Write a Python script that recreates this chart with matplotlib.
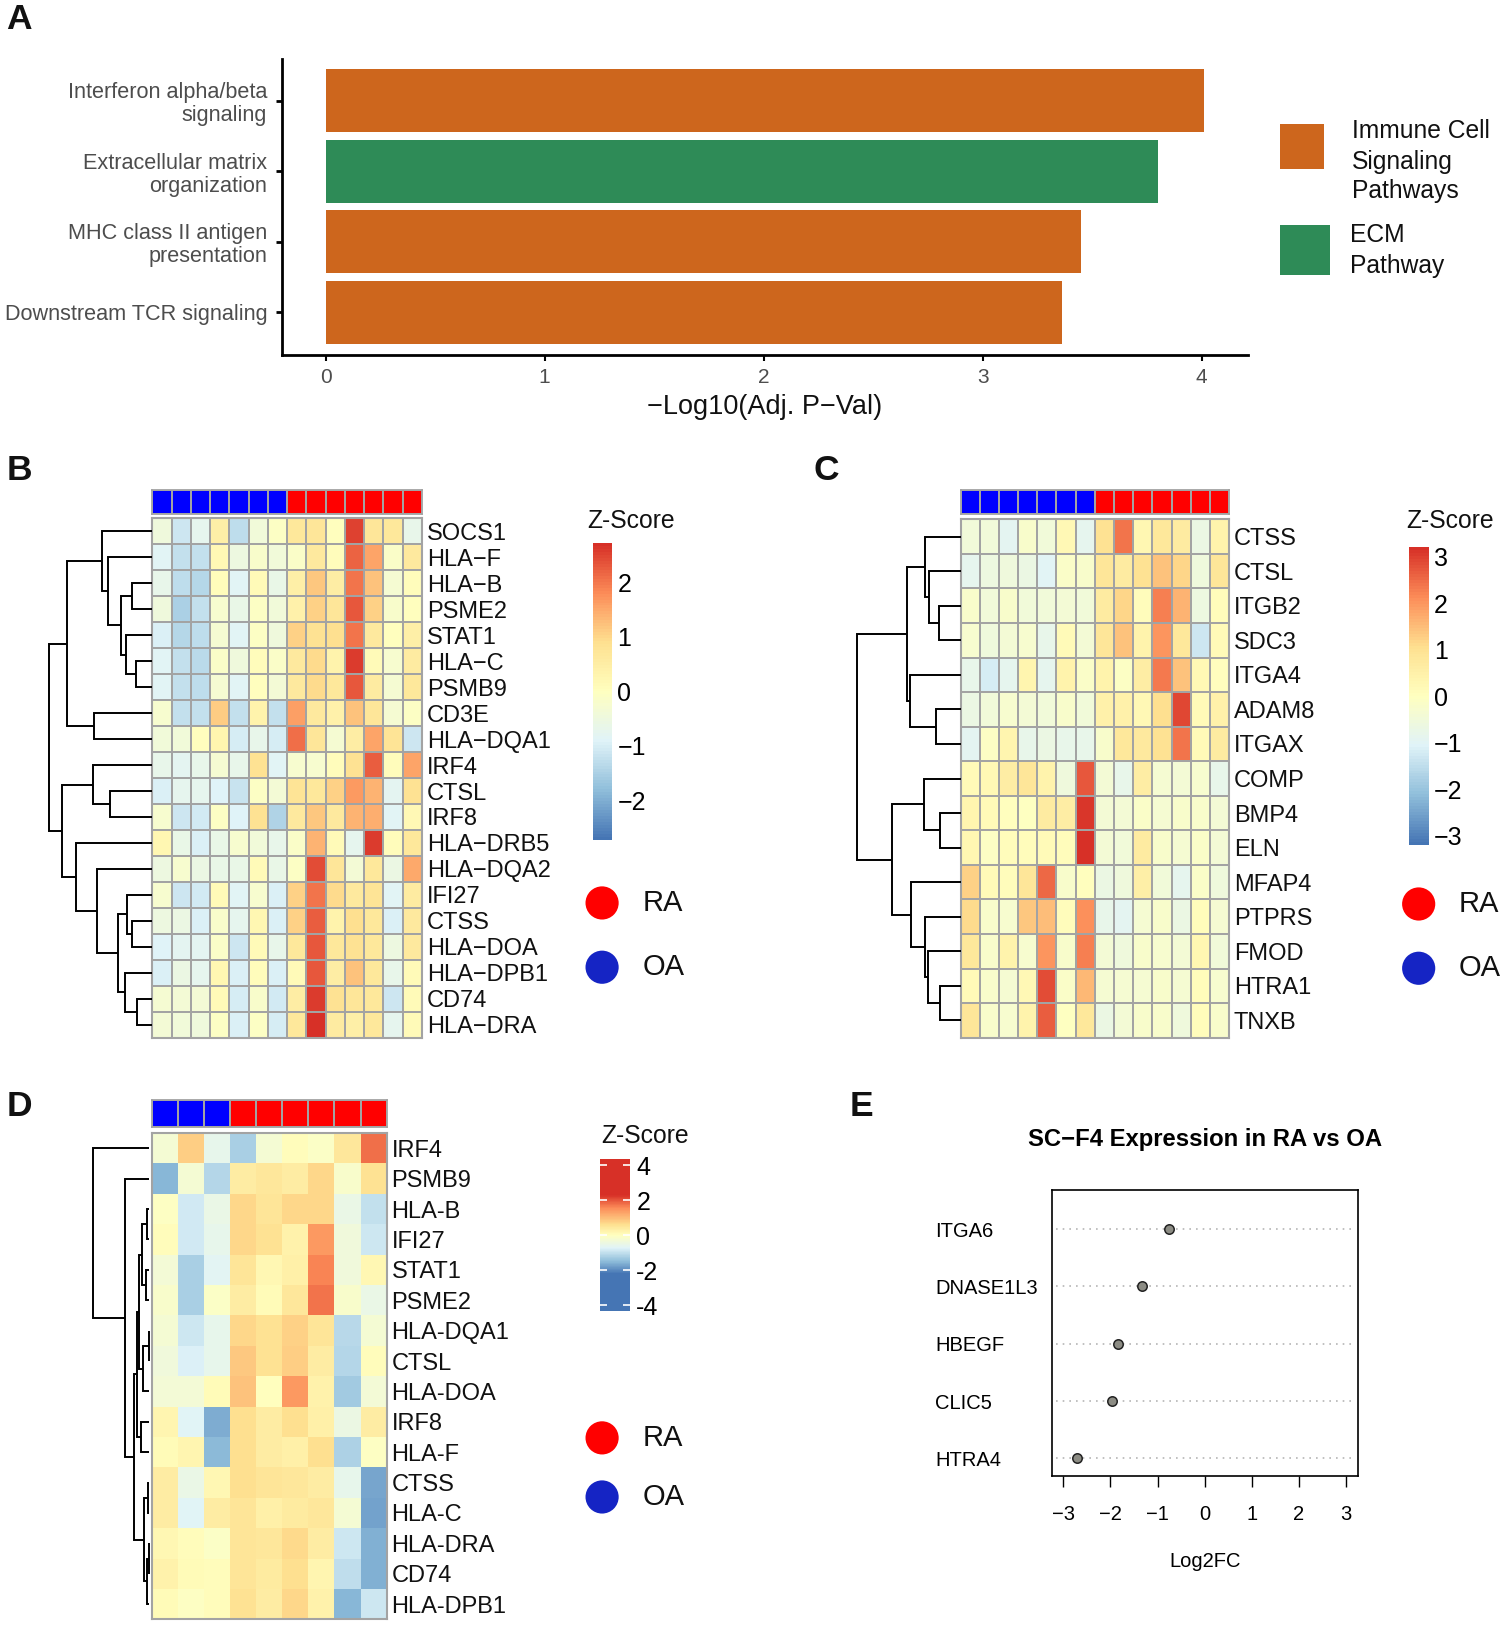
import numpy as np
import pandas as pd
import matplotlib
matplotlib.use('Agg')
from matplotlib import pyplot as plt
from matplotlib.colors import LinearSegmentedColormap, ListedColormap, Normalize
from matplotlib.cm import ScalarMappable
from matplotlib.patches import Rectangle, Circle

plt.rcParams['font.family'] = ['Liberation Sans', 'DejaVu Sans']

# Panel A
pathways = ['Downstream TCR signaling', 'MHC class II antigen\npresentation',
            'Extracellular matrix\norganization', 'Interferon alpha/beta\nsignaling']
pvals = [3.36, 3.45, 3.80, 4.01]
path_groups = ['immune', 'immune', 'ecm', 'immune']

# Panel B
genes_b = ['SOCS1', 'HLA−F', 'HLA−B', 'PSME2', 'STAT1', 'HLA−C', 'PSMB9', 'CD3E', 'HLA−DQA1', 'IRF4',
           'CTSL', 'IRF8', 'HLA−DRB5', 'HLA−DQA2', 'IFI27', 'CTSS', 'HLA−DOA', 'HLA−DPB1', 'CD74', 'HLA−DRA']
groups_b = ['OA'] * 7 + ['RA'] * 7
z_b = [
    [-.45, -1.1, -.75, .45, -1.3, -.4, -.1, .7, .75, .05, 2.55, .75, .7, -.7],
    [-.85, -1.2, -1.25, .2, -.5, -.2, -.4, -.15, .65, .1, 2.2, 1.55, -.15, .65],
    [-.7, -1.3, -1.4, .1, -.85, .15, -.65, .45, 1.15, .5, 2.05, 1.25, -.3, .1],
    [-.45, -1.5, -1.25, -.25, -.6, -.1, -.4, .4, 1.05, .75, 2.3, 1.05, -.2, .05],
    [-.95, -1.4, -1.3, -.3, -.85, -.1, -.45, 1.05, .85, .9, 2.05, .65, .05, .45],
    [-.85, -1.25, -1.35, -.15, -.45, .1, -.15, .6, .95, .35, 2.6, .15, -.25, .55],
    [-.85, -1.2, -1.3, -.3, -.85, .05, -.35, .6, .95, .7, 2.3, .55, -.3, .7],
    [-.25, -1.25, -1.25, 1.1, -1.25, .35, -1.2, 1.6, .6, .4, 1.25, .75, -.3, -.1],
    [-.4, -.4, .05, .3, -1.0, -.7, -1.0, 2.1, .75, -.3, .5, 1.55, .8, -1.1],
    [-.7, -.8, -.7, -.3, -.7, .85, -.85, -.25, -.25, .1, .85, 2.25, .1, 1.55],
    [-.95, -.75, -.75, -.9, -1.15, -.1, -.35, .8, .7, 1.05, 1.65, 1.4, -.8, .85],
    [-.25, -1.1, -1.05, -.1, -.9, .85, -1.45, .6, 1.15, .6, 1.4, 1.45, -.85, .2],
    [.25, -.65, -.95, -.65, -.25, -.4, -.7, -.15, 1.4, .15, -.75, 2.6, .1, .7],
    [-.5, -.25, -.55, -.6, -.65, .15, -.65, -.1, 2.4, .75, -.35, .7, -.55, 1.5],
    [-.25, -1.1, -1.05, .15, -.85, -.25, -.95, 1.05, 2.05, .95, .6, .8, -.85, .55],
    [-.5, -.55, -.95, -.2, -.75, .25, -.95, 1.05, 2.25, .35, .9, .7, -.95, .6],
    [-.9, -.8, -.8, -.15, -1.1, .15, -.7, .7, 2.3, .7, .85, .7, -.5, .65],
    [-.95, -.55, -.75, .25, -.95, .1, -.95, .15, 2.3, .5, 1.2, .7, -.7, .15],
    [-.3, -.35, -.35, .15, -1.0, -.2, -1.05, .5, 2.6, .85, .75, .7, -1.1, .15],
    [-.35, -.4, -.45, -.1, -.95, -.1, -1.0, .7, 2.7, .55, .45, .7, -.75, .15],
]
tree_b = (306,
          (252,
           (149, 0, (131, 1, (94, (59, 2, 3), (77, 4, (49, 5, 6))))),
           (172, 7, 8)),
          (268,
           (176, 9, (124, 10, 11)),
           (225, 12, (162, 13, (100, (74, 14, (59, 15, 16)), (81, 17, (45, 18, 19)))))))

# Panel C
genes_c = ['CTSS', 'CTSL', 'ITGB2', 'SDC3', 'ITGA4', 'ADAM8', 'ITGAX', 'COMP', 'BMP4', 'ELN',
           'MFAP4', 'PTPRS', 'FMOD', 'HTRA1', 'TNXB']
groups_c = ['OA'] * 7 + ['RA'] * 7
z_c = [
    [-.5, -.45, -.95, -.25, -.45, .2, -.85, 1.0, 2.4, .3, .8, .65, -.65, .4],
    [-.85, -.6, -.55, -.7, -1.0, -.15, -.2, .85, .65, 1.0, 1.45, 1.2, -.55, .85],
    [-.2, -.45, -.25, -.45, -.5, -.4, -.45, .7, 1.2, .1, 2.3, 1.6, -.6, .1],
    [-.3, -.55, -.4, -.3, -.8, .15, -.4, .85, 1.45, .4, 2.0, .8, -1.3, .15],
    [-.8, -1.2, -.85, .35, -.85, .4, -.15, .4, -.1, .6, 2.35, 1.45, .2, .05],
    [-.65, -.45, -.3, -.4, -.5, -.2, -.45, .5, .45, .2, 1.05, 2.9, .15, .45],
    [-.95, -.1, .35, -.8, -.7, -.8, -.8, -.2, .8, .75, 1.0, 2.4, .15, .7],
    [.15, .2, .6, .85, .4, -.55, 2.7, -.4, -.8, .6, -.35, -.4, -.3, -.8],
    [.35, .15, .05, -.05, .7, .6, 3.1, -.4, -.4, -.15, -.35, -.25, -.25, -.4],
    [.3, -.1, .1, .1, .15, .1, 3.15, -.4, -.45, .7, -.2, -.35, -.15, -.4],
    [1.25, .15, .1, .85, 2.5, -.2, .05, -.7, -.55, .55, -.5, -.85, -.15, -.55],
    [1.15, -.2, -.3, 1.35, 1.5, .1, 2.1, -.8, -.9, -.35, -.2, -.65, .1, -.35],
    [.8, -.25, .4, -.3, 2.0, -.25, 2.25, -.4, -.55, -.25, -.3, -.4, .3, -.5],
    [.15, -.2, -.35, .25, 2.85, -.15, 1.55, -.35, -.35, -.35, -.25, -.35, .1, -.3],
    [.85, -.25, -.3, .4, 2.65, -.05, .8, -.7, -.4, -.2, -.2, -.55, .1, -.25],
]
tree_c = (307,
          (158,
           (105, 0, (95, 1, (63, 2, 3))),
           (149, 4, (72, 5, 6))),
          (203,
           (108, 7, (62, 8, 9)),
           (146, 10, (105, 11, (96, 12, (62, 13, 14))))))

# Panel D
genes_d = ['IRF4', 'PSMB9', 'HLA-B', 'IFI27', 'STAT1', 'PSME2', 'HLA-DQA1', 'CTSL', 'HLA-DOA', 'IRF8',
           'HLA-F', 'CTSS', 'HLA-C', 'HLA-DRA', 'CD74', 'HLA-DPB1']
groups_d = ['OA'] * 3 + ['RA'] * 6
z_d = [
    [-.25, .8, -.55, -1.25, -.25, .05, -.1, .45, 1.8],
    [-1.55, -.25, -1.15, .35, .45, .35, .7, -.15, .55],
    [-.05, -.85, -.5, .7, .5, .7, .7, -.5, -1.0],
    [.05, -.85, -.55, .7, .55, .25, 1.4, -.35, -.9],
    [-.3, -1.25, -.65, .5, .15, .3, 1.6, -.35, .15],
    [-.15, -1.25, -.1, .35, .1, .45, 1.75, -.15, -.5],
    [-.25, -.9, -.55, .7, .55, .75, .5, -1.1, -.25],
    [-.35, -.75, -.55, .85, .55, .8, .35, -1.15, .05],
    [-.3, -.3, .1, .95, .03, 1.4, .25, -1.3, -.3],
    [.2, -.7, -1.65, .6, .35, .6, .3, -.45, .35],
    [.1, .2, -1.5, .6, .35, .3, .6, -1.2, -.05],
    [.35, -.5, .15, .6, .5, .45, .35, -.55, -1.7],
    [.35, -.7, .35, .5, .3, .4, .45, -.25, -1.75],
    [.15, .05, -.1, .5, .45, .65, .35, -.9, -1.6],
    [.25, .1, .05, .5, .4, .6, .2, -1.05, -1.6],
    [.1, -.05, .05, .55, .35, .7, .25, -1.55, -.9],
]
tree_d = (170, 0,
          (73, 1,
           (46,
            (38,
             (30, (21, (6, 2, 3), (10, 4, 5)), (20, 8, (2, 6, 7))),
             (24, 9, 10)),
            (16, (5, 11, 12), (7, (2, 13, 14), 15)))))

# Panel E
genes_e = ['HTRA4', 'CLIC5', 'HBEGF', 'DNASE1L3', 'ITGA6']
log2fc = [-2.7, -1.96, -1.83, -1.32, -0.75]

rd_yl_bu = ['#4575B4', '#91BFDB', '#E0F3F8', '#FFFFBF', '#FEE090', '#FC8D59', '#D73027']
cmap = LinearSegmentedColormap.from_list('heat', rd_yl_bu, N=100)

# all positions below are in px of a scaled copy of the figure
W, H = 1452.3, 1567.5
fig = plt.figure(figsize=(15.05, 16.25), dpi=100)


def axes_px(x0, y0, x1, y1):
    return fig.add_axes([x0 / W, 1 - y1 / H, (x1 - x0) / W, (y1 - y0) / H])


def draw_tree(ax, node):
    if not isinstance(node, tuple):
        return node + 0.5, 0
    h, left, right = node
    y1, h1 = draw_tree(ax, left)
    y2, h2 = draw_tree(ax, right)
    ax.plot([h1, h, h, h2], [y1, y1, y2, y2], color='black', lw=1.4,
            solid_joinstyle='miter', solid_capstyle='butt', clip_on=False)
    return (y1 + y2) / 2, h


def heat_panel(z, genes, groups, tree, box, annot, dendro, grid=True, cm=cmap, lim=2.72):
    z = pd.DataFrame(z, index=genes)
    grey = '#A3A3A3'
    ax = axes_px(*box)
    if grid:
        ax.pcolormesh(z.values, cmap=cm, vmin=-lim, vmax=lim, edgecolors=grey, linewidth=1.3)
    else:
        ax.pcolormesh(z.values, cmap=cm, vmin=-lim, vmax=lim)
    ax.set_ylim(len(genes), 0)
    ax.set_xticks([])
    ax.yaxis.tick_right()
    ax.set_yticks(np.arange(len(genes)) + 0.5)
    ax.set_yticklabels(genes, fontsize=17, color='#111111')
    ax.tick_params(axis='y', length=0, pad=3.5)
    for s in ax.spines.values():
        s.set_color(grey)
        s.set_linewidth(1.5)

    an = axes_px(*annot)
    codes = np.array([[0 if g == 'OA' else 1 for g in groups]])
    an.pcolormesh(codes, cmap=ListedColormap(['#0000FF', '#FF0000']), vmin=0, vmax=1,
                  edgecolors=grey, linewidth=1.1)
    an.set_xticks([])
    an.set_yticks([])
    for s in an.spines.values():
        s.set_color(grey)
        s.set_linewidth(1.3)

    de = axes_px(*dendro)
    draw_tree(de, tree)
    de.set_xlim(tree[0], 0)
    de.set_ylim(len(genes), 0)
    de.axis('off')


def colorbar(box, cm, lim, ticks, labels, white_ticks=False):
    cax = axes_px(*box)
    sm = ScalarMappable(norm=Normalize(-lim, lim), cmap=cm)
    cb = fig.colorbar(sm, cax=cax)
    cb.outline.set_visible(False)
    cb.set_ticks(ticks)
    cb.set_ticklabels(labels)
    cb.ax.minorticks_off()
    if white_ticks:
        cax.tick_params(axis='y', left=True, right=True, direction='in', color='white',
                        length=5, width=1.2, labelsize=18, pad=4.5)
    else:
        cax.tick_params(axis='y', length=0, labelsize=18, pad=3.5)


# A
ax_a = axes_px(272, 57, 1204, 342)
bar_cols = ['#CD661D' if g == 'immune' else '#2E8B57' for g in path_groups]
ax_a.barh(range(4), pvals, height=0.89, color=bar_cols)
ax_a.set_xlim(-0.2, 4.21)
ax_a.set_ylim(-0.6, 3.59)
ax_a.set_yticks(range(4))
ax_a.set_yticklabels(pathways, fontsize=15.6, color='#4D4D4D', linespacing=1.12)
ax_a.set_xticks(range(5))
ax_a.tick_params(axis='x', labelsize=15, labelcolor='#4D4D4D', length=4, width=1.5, pad=6)
ax_a.tick_params(axis='y', length=4.5, width=2, pad=6)
ax_a.set_xlabel('−Log10(Adj. P−Val)', fontsize=19.5, labelpad=5, color='#111111')
for s in ['top', 'right']:
    ax_a.spines[s].set_visible(False)
for s in ['left', 'bottom']:
    ax_a.spines[s].set_linewidth(2)

# B, C, D
heat_panel(z_b, genes_b, groups_b, tree_b, (147, 500, 407, 1001), (147, 473, 407, 496), (47, 500, 147, 1001))
heat_panel(z_c, genes_c, groups_c, tree_c, (927, 501, 1186, 1001), (927, 473, 1186, 496), (827, 501, 927, 1001),
           lim=3.2)
# D is saturated well before the end of its scale
stops = [-4.35, -2.2, -1.47, -.73, 0, .6, 1.55, 2.3, 4.35]
stop_cols = ['#4575B4'] + rd_yl_bu + ['#D73027']
cmap_d = LinearSegmentedColormap.from_list('heat_d', [((v + 4.35) / 8.7, c) for v, c in zip(stops, stop_cols)], N=256)
heat_panel(z_d, genes_d, groups_d, tree_d, (147, 1093, 373, 1562), (147, 1061, 373, 1087), (90, 1093, 144, 1562),
           grid=False, cm=cmap_d, lim=4.35)

colorbar((572, 524, 591, 810), cmap, 2.72, [-2, -1, 0, 1, 2], ['−2', '−1', '0', '1', '2'])
colorbar((1360, 528, 1379, 815), cmap, 3.2, [-3, -2, -1, 0, 1, 2, 3], ['−3', '−2', '−1', '0', '1', '2', '3'])
colorbar((579, 1118, 608, 1265), cmap_d, 4.35, [-4, -2, 0, 2, 4], ['-4', '-2', '0', '2', '4'], white_ticks=True)

# E
ax_e = axes_px(1015, 1148, 1310, 1424)
y_e = np.arange(1, 6)
ax_e.hlines(y_e, -3.16, 3.2, color='#B5B5B5', lw=1.2, linestyles=(0, (1, 3)))
ax_e.plot(log2fc, y_e, 'o', ms=6.8, mfc='#8C8C84', mec='#222222', mew=1.1)
ax_e.set_xlim(-3.24, 3.24)
ax_e.set_ylim(0.69, 5.68)
ax_e.set_xticks(range(-3, 4))
ax_e.set_xticklabels(['−3', '−2', '−1', '0', '1', '2', '3'])
ax_e.tick_params(axis='x', labelsize=14.5, length=8, width=1, pad=13)
ax_e.set_yticks(y_e)
ax_e.set_yticklabels(genes_e, ha='left', fontsize=14.5)
ax_e.tick_params(axis='y', length=0, pad=84)
ax_e.set_xlabel('Log2FC', fontsize=14.5, labelpad=20)
ax_e.set_title('SC−F4 Expression in RA vs OA', fontsize=17.2, fontweight='bold', pad=32)
for s in ax_e.spines.values():
    s.set_linewidth(1.2)

# everything that is not tied to an axis: letters, legends
over = fig.add_axes([0, 0, 1, 1], facecolor='none')
over.set_xlim(0, W)
over.set_ylim(H, 0)
over.axis('off')
for letter, x, y in [('A', 6, 19), ('B', 6, 454), ('C', 785, 454), ('D', 6, 1067), ('E', 820, 1067)]:
    over.text(x, y, letter, fontsize=25.5, fontweight='bold', va='center', color='#111111')

over.add_patch(Rectangle((1235, 120), 43, 43, color='#CD661D', lw=0))
over.add_patch(Rectangle((1235, 217), 48, 48, color='#2E8B57', lw=0))
for txt, x, y in [('Immune Cell', 1305, 126), ('Signaling', 1305, 156), ('Pathways', 1305, 184),
                  ('ECM', 1303, 227), ('Pathway', 1303, 257)]:
    over.text(x, y, txt, fontsize=17.7, va='center', color='#111111')

for x, y in [(567, 503), (1357, 503), (580, 1096)]:
    over.text(x, y, 'Z-Score', fontsize=17.8, va='center', color='#111111')

for x, y_ra, y_oa in [(581, 871, 933), (1369, 872, 934), (581, 1387, 1444)]:
    over.add_patch(Circle((x, y_ra), 16, color='#FF0000', lw=0))
    over.add_patch(Circle((x, y_oa), 16, color='#1524C4', lw=0))
    over.text(x + 39, y_ra, 'RA', fontsize=21, va='center', color='#111111')
    over.text(x + 39, y_oa, 'OA', fontsize=21, va='center', color='#111111')

fig.savefig('out.png', dpi=100)
